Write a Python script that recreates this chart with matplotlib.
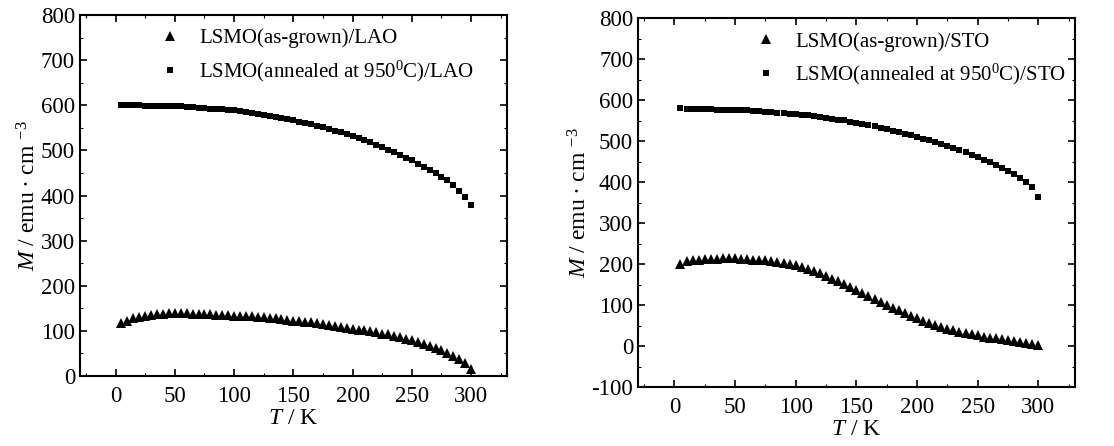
import numpy as np
import matplotlib
matplotlib.use("Agg")
import matplotlib.pyplot as plt
from matplotlib.ticker import MultipleLocator

plt.rcParams['font.family'] = ['Liberation Serif', 'DejaVu Serif']
plt.rcParams['mathtext.fontset'] = 'custom'
plt.rcParams['mathtext.rm'] = 'Liberation Serif'
plt.rcParams['mathtext.it'] = 'Liberation Serif:italic'
plt.rcParams['axes.unicode_minus'] = False

T = np.arange(5, 301, 5)

lao_grown = [118, 123, 128, 131, 134, 136, 137, 138, 139, 139, 139, 139, 138, 138, 137, 137,
             136, 136, 135, 134, 133, 133, 132, 131, 130, 129, 128, 127, 125, 123, 122, 120,
             119, 117, 115, 113, 111, 109, 107, 105, 103, 101, 99, 97, 94, 92, 89, 86,
             82, 79, 75, 71, 67, 62, 57, 51, 45, 37, 28, 16]
lao_annealed = [600, 600, 600, 600, 599, 599, 599, 598, 598, 598, 598, 597, 596, 595, 594, 593,
                592, 591, 590, 589, 587, 585, 583, 581, 579, 577, 575, 572, 570, 567, 564, 561,
                558, 555, 552, 548, 544, 540, 536, 532, 528, 523, 518, 513, 508, 502, 496, 490,
                484, 478, 471, 464, 457, 450, 442, 434, 424, 411, 396, 378]
sto_grown = [200, 207, 209, 211, 212, 213, 213, 214, 214, 214, 213, 212, 211, 210, 209, 207,
             205, 203, 200, 197, 193, 189, 184, 178, 172, 165, 158, 151, 144, 137, 129, 122,
             115, 108, 101, 94, 87, 80, 74, 68, 62, 57, 52, 47, 43, 39, 35, 32,
             29, 26, 23, 21, 19, 17, 15, 12, 10, 8, 5, 2]
sto_annealed = [580, 578, 578, 578, 578, 578, 577, 577, 577, 576, 576, 575, 574, 573, 572, 571,
                570, 569, 567, 566, 564, 563, 561, 559, 557, 555, 553, 551, 548, 545, 542, 539,
                536, 533, 530, 526, 522, 518, 514, 510, 506, 502, 498, 493, 488, 483, 478, 473,
                467, 461, 455, 449, 442, 435, 427, 419, 410, 400, 388, 364]

panels = [
    dict(grown=lao_grown, annealed=lao_annealed, sub="LAO", ylim=(0, 800),
         rect=[0.0718, 0.157, 0.383, 0.809], leg=(0.555, 1.0)),
    dict(grown=sto_grown, annealed=sto_annealed, sub="STO", ylim=(-100, 800),
         rect=[0.5727, 0.132, 0.392, 0.827], leg=(0.625, 1.0)),
]

fig = plt.figure(figsize=(11.14, 4.46), dpi=100)
for p in panels:
    ax = fig.add_axes(p["rect"])
    ax.plot(T, p["grown"], '^', color='black', ms=6.5, mew=0, label=f"LSMO(as-grown)/{p['sub']}")
    ax.plot(T, p["annealed"], 's', color='black', ms=4.8, mew=0,
            label=f"LSMO(annealed at 950$^0$C)/{p['sub']}")
    ax.set_xlim(-30, 330)
    ax.set_ylim(*p["ylim"])
    ax.xaxis.set_major_locator(MultipleLocator(50))
    ax.yaxis.set_major_locator(MultipleLocator(100))
    ax.xaxis.set_minor_locator(MultipleLocator(25))
    ax.yaxis.set_minor_locator(MultipleLocator(50))
    ax.tick_params(which='both', direction='in', top=True, right=True, labelsize=16.5)
    ax.tick_params(axis='x', pad=7)
    ax.tick_params(which='major', length=5, width=1.2)
    ax.tick_params(which='minor', length=2, width=0.8)
    for s in ax.spines.values():
        s.set_linewidth(1.5)
    ax.set_xlabel(r"$\mathit{T}$ / K", fontsize=17, labelpad=1)
    ax.set_ylabel(r"$\mathit{M}$ / emu $\bullet$ cm $^{-3}$", fontsize=17, labelpad=0)
    ax.legend(loc='upper center', bbox_to_anchor=p["leg"], frameon=False, fontsize=15,
              handlelength=1.0, handletextpad=0.9, labelspacing=0.5, borderaxespad=0.25)

fig.savefig("out.png", dpi=100)
